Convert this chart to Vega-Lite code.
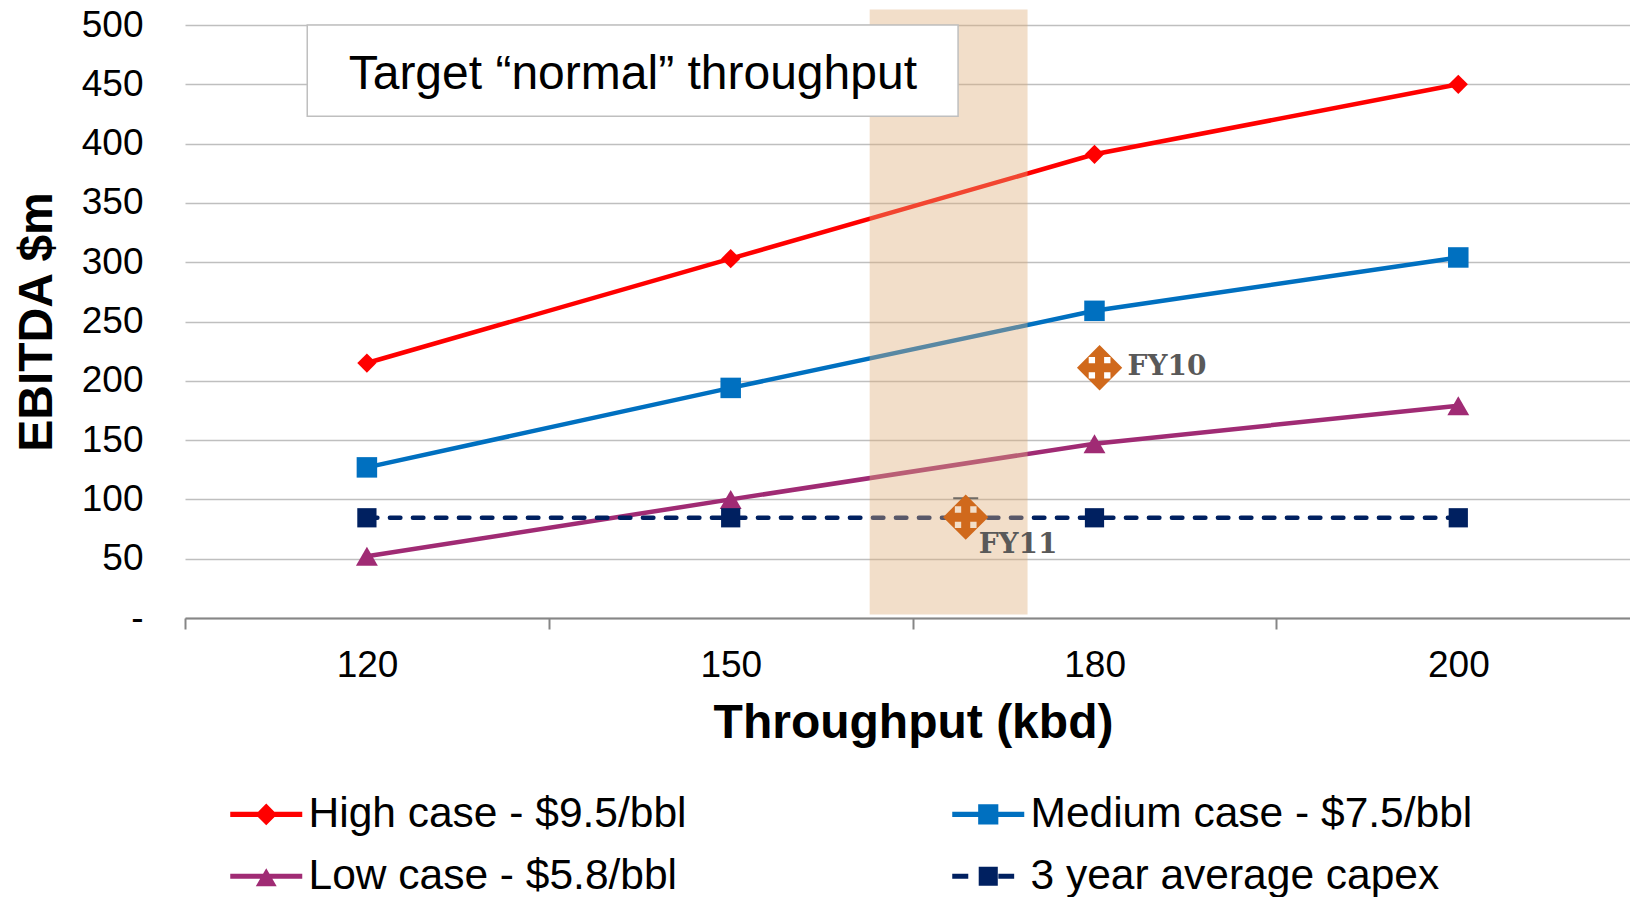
{
  "$schema": "https://vega.github.io/schema/vega-lite/v6.json",
  "width": 1445,
  "height": 593,
  "autosize": {"type": "none"},
  "padding": {"left": 185, "top": 25, "right": 0, "bottom": 279},
  "background": "white",
  "config": {
    "view": {"stroke": null},
    "font": "Liberation Sans",
    "text": {"font": "Liberation Sans"}
  },
  "datasets": {
    "ebitda": [
      {"series": "High case - $9.5/bbl", "throughput": 120, "slot": 0, "ebitda": 215},
      {"series": "High case - $9.5/bbl", "throughput": 150, "slot": 1, "ebitda": 303},
      {"series": "High case - $9.5/bbl", "throughput": 180, "slot": 2, "ebitda": 391},
      {"series": "High case - $9.5/bbl", "throughput": 200, "slot": 3, "ebitda": 450},
      {"series": "Medium case - $7.5/bbl", "throughput": 120, "slot": 0, "ebitda": 127},
      {"series": "Medium case - $7.5/bbl", "throughput": 150, "slot": 1, "ebitda": 194},
      {"series": "Medium case - $7.5/bbl", "throughput": 180, "slot": 2, "ebitda": 259},
      {"series": "Medium case - $7.5/bbl", "throughput": 200, "slot": 3, "ebitda": 304},
      {"series": "Low case - $5.8/bbl", "throughput": 120, "slot": 0, "ebitda": 52},
      {"series": "Low case - $5.8/bbl", "throughput": 150, "slot": 1, "ebitda": 100},
      {"series": "Low case - $5.8/bbl", "throughput": 180, "slot": 2, "ebitda": 147},
      {"series": "Low case - $5.8/bbl", "throughput": 200, "slot": 3, "ebitda": 179},
      {"series": "3 year average capex", "throughput": 120, "slot": 0, "ebitda": 84.5},
      {"series": "3 year average capex", "throughput": 150, "slot": 1, "ebitda": 84.5},
      {"series": "3 year average capex", "throughput": 180, "slot": 2, "ebitda": 84.5},
      {"series": "3 year average capex", "throughput": 200, "slot": 3, "ebitda": 84.5}
    ],
    "actuals": [
      {"label": "FY10", "slot": 2.014, "ebitda": 211},
      {"label": "FY11", "slot": 1.646, "ebitda": 85, "upper": 101}
    ],
    "target": [
      {"from": 1.382, "to": 1.816, "low": 3, "high": 513}
    ],
    "note": [
      {"text": "Target “normal” throughput", "x0": -0.164, "x1": 1.625, "y0": 423, "y1": 500, "xc": 0.731, "yc": 458}
    ]
  },
  "layer": [
    {
      "data": {"name": "ebitda"},
      "transform": [{"filter": "datum.series === 'High case - $9.5/bbl'"}],
      "mark": {"type": "line", "color": "#FF0000", "strokeWidth": 4.5,
               "point": {"shape": "diamond", "size": 370, "filled": true, "color": "#FF0000"}},
      "encoding": {
        "x": {
          "field": "slot", "type": "quantitative", "title": "Throughput (kbd)",
          "scale": {"domain": [-0.5, 3.472], "nice": false, "zero": false},
          "axis": {
            "values": [-0.5, 0.5, 1.5, 2.5],
            "labelExpr": "datum.value < 0 ? '120' : datum.value < 1 ? '150' : datum.value < 2 ? '180' : '200'",
            "labelOffset": 182,
            "labelFlush": false,
            "labelOverlap": false,
            "labelBound": false,
            "grid": false,
            "domainColor": "#868686", "domainWidth": 2,
            "tickColor": "#868686", "tickWidth": 2, "tickSize": 11,
            "labelFont": "Liberation Sans", "labelFontSize": 37, "labelColor": "#000000", "labelPadding": 18,
            "titleFont": "Liberation Sans", "titleFontSize": 48, "titleFontWeight": "bold", "titleColor": "#000000",
            "titlePadding": 16, "titleX": 728
          }
        },
        "y": {
          "field": "ebitda", "type": "quantitative", "title": "EBITDA $m",
          "scale": {"domain": [0, 500], "nice": false},
          "axis": {
            "values": [0, 50, 100, 150, 200, 250, 300, 350, 400, 450, 500],
            "labelExpr": "datum.value == 0 ? '-' : datum.label",
            "grid": true, "gridColor": "#BFBFBF", "gridWidth": 1.5,
            "domain": false, "ticks": false,
            "labelFont": "Liberation Sans", "labelFontSize": 37, "labelColor": "#000000", "labelPadding": 42,
            "titleFont": "Liberation Sans", "titleFontSize": 48, "titleFontWeight": "bold", "titleColor": "#000000",
            "titlePadding": 20
          }
        }
      }
    },
    {
      "data": {"name": "ebitda"},
      "transform": [{"filter": "datum.series === 'Medium case - $7.5/bbl'"}],
      "mark": {"type": "line", "color": "#0070C0", "strokeWidth": 4.5,
               "point": {"shape": "square", "size": 420, "filled": true, "color": "#0070C0"}},
      "encoding": {
        "x": {"field": "slot", "type": "quantitative", "title": "Throughput (kbd)"},
        "y": {"field": "ebitda", "type": "quantitative", "title": "EBITDA $m"}
      }
    },
    {
      "data": {"name": "ebitda"},
      "transform": [{"filter": "datum.series === 'Low case - $5.8/bbl'"}],
      "mark": {"type": "line", "color": "#A02B74", "strokeWidth": 4.5,
               "point": {"shape": "triangle-up", "size": 480, "filled": true, "color": "#A02B74"}},
      "encoding": {
        "x": {"field": "slot", "type": "quantitative", "title": "Throughput (kbd)"},
        "y": {"field": "ebitda", "type": "quantitative", "title": "EBITDA $m"}
      }
    },
    {
      "data": {"name": "ebitda"},
      "transform": [{"filter": "datum.series === '3 year average capex'"}],
      "mark": {"type": "line", "color": "#002060", "strokeWidth": 4.5, "strokeDash": [10.5, 12.5], "strokeCap": "round",
               "point": {"shape": "square", "size": 370, "filled": true, "color": "#002060"}},
      "encoding": {
        "x": {"field": "slot", "type": "quantitative", "title": "Throughput (kbd)"},
        "y": {"field": "ebitda", "type": "quantitative", "title": "EBITDA $m"}
      }
    },
    {
      "data": {"name": "ebitda"},
      "mark": {"type": "point", "filled": true, "opacity": 0},
      "encoding": {
        "x": {"field": "slot", "type": "quantitative", "title": "Throughput (kbd)"},
        "y": {"field": "ebitda", "type": "quantitative", "title": "EBITDA $m"},
        "color": {
          "field": "series", "type": "nominal",
          "scale": {
            "domain": ["High case - $9.5/bbl", "Low case - $5.8/bbl", "Medium case - $7.5/bbl", "3 year average capex"],
            "range": ["#FF0000", "#A02B74", "#0070C0", "#002060"]
          },
          "legend": {
            "orient": "none", "legendX": 42, "legendY": 768,
            "columns": 2, "columnPadding": 262, "rowPadding": 19,
            "title": null,
            "symbolSize": 1296, "symbolStrokeWidth": 0, "symbolOpacity": 1,
            "labelFont": "Liberation Sans", "labelFontSize": 42.5, "labelColor": "#000000",
            "labelOffset": 39, "labelLimit": 0
          }
        },
        "shape": {
          "field": "series", "type": "nominal",
          "scale": {
            "domain": ["High case - $9.5/bbl", "Low case - $5.8/bbl", "Medium case - $7.5/bbl", "3 year average capex"],
            "range": [
              "M-1,-0.14L3,-0.14L3,0.14L-1,0.14Z M1,-0.6L1.6,0L1,0.6L0.4,0Z",
              "M-1,-0.14L3,-0.14L3,0.14L-1,0.14Z M1,-0.45L1.58,0.55L0.42,0.55Z",
              "M-1,-0.14L3,-0.14L3,0.14L-1,0.14Z M0.44,-0.56L1.56,-0.56L1.56,0.56L0.44,0.56Z",
              "M-1,-0.14L-0.11,-0.14L-0.11,0.14L-1,0.14Z M0.47,-0.53L1.53,-0.53L1.53,0.53L0.47,0.53Z M1.56,-0.14L2.44,-0.14L2.44,0.14L1.56,0.14Z"
            ]
          },
          "legend": {
            "orient": "none", "legendX": 42, "legendY": 768,
            "columns": 2, "columnPadding": 262, "rowPadding": 19,
            "title": null,
            "symbolSize": 1296, "symbolStrokeWidth": 0, "symbolOpacity": 1,
            "labelFont": "Liberation Sans", "labelFontSize": 42.5, "labelColor": "#000000",
            "labelOffset": 39, "labelLimit": 0
          }
        }
      }
    },
    {
      "data": {"name": "target"},
      "mark": {"type": "rect", "color": "#DEAC78", "opacity": 0.4},
      "encoding": {
        "x": {"field": "from", "type": "quantitative", "title": "Throughput (kbd)"},
        "x2": {"field": "to"},
        "y": {"field": "low", "type": "quantitative", "title": "EBITDA $m"},
        "y2": {"field": "high"}
      }
    },
    {
      "data": {"name": "note"},
      "mark": {"type": "rect", "fill": "#FFFFFF", "stroke": "#BFBFBF", "strokeWidth": 1.5},
      "encoding": {
        "x": {"field": "x0", "type": "quantitative", "title": "Throughput (kbd)"},
        "x2": {"field": "x1"},
        "y": {"field": "y0", "type": "quantitative", "title": "EBITDA $m"},
        "y2": {"field": "y1"}
      }
    },
    {
      "data": {"name": "note"},
      "mark": {"type": "text", "font": "Liberation Sans", "fontSize": 48, "color": "#000000", "align": "center", "baseline": "middle"},
      "encoding": {
        "x": {"field": "xc", "type": "quantitative", "title": "Throughput (kbd)"},
        "y": {"field": "yc", "type": "quantitative", "title": "EBITDA $m"},
        "text": {"field": "text"}
      }
    },
    {
      "data": {"name": "actuals"},
      "transform": [{"filter": "isValid(datum.upper)"}],
      "mark": {"type": "tick", "orient": "horizontal", "size": 25, "thickness": 2, "color": "#3F3F3F"},
      "encoding": {
        "x": {"field": "slot", "type": "quantitative", "title": "Throughput (kbd)"},
        "y": {"field": "upper", "type": "quantitative", "title": "EBITDA $m"}
      }
    },
    {
      "data": {"name": "actuals"},
      "mark": {
        "type": "point", "filled": true, "color": "#D0691C", "opacity": 1, "size": 2050, "strokeWidth": 0,
        "shape": "M0,-1L1,0L0,1L-1,0Z M0.2,0.2L0.2,0.48L0.48,0.48L0.48,0.2Z M-0.2,0.2L-0.48,0.2L-0.48,0.48L-0.2,0.48Z M0.2,-0.2L0.48,-0.2L0.48,-0.48L0.2,-0.48Z M-0.2,-0.2L-0.2,-0.48L-0.48,-0.48L-0.48,-0.2Z"
      },
      "encoding": {
        "x": {"field": "slot", "type": "quantitative", "title": "Throughput (kbd)"},
        "y": {"field": "ebitda", "type": "quantitative", "title": "EBITDA $m"}
      }
    },
    {
      "data": {"name": "actuals"},
      "transform": [{"filter": "datum.label === 'FY10'"}],
      "mark": {"type": "text", "font": "DejaVu Serif", "fontWeight": "bold", "fontSize": 28, "color": "#595959", "align": "left", "baseline": "alphabetic", "dx": 28, "dy": 7},
      "encoding": {
        "x": {"field": "slot", "type": "quantitative", "title": "Throughput (kbd)"},
        "y": {"field": "ebitda", "type": "quantitative", "title": "EBITDA $m"},
        "text": {"field": "label"}
      }
    },
    {
      "data": {"name": "actuals"},
      "transform": [{"filter": "datum.label === 'FY11'"}],
      "mark": {"type": "text", "font": "DejaVu Serif", "fontWeight": "bold", "fontSize": 28, "color": "#595959", "align": "left", "baseline": "alphabetic", "dx": 13, "dy": 36},
      "encoding": {
        "x": {"field": "slot", "type": "quantitative", "title": "Throughput (kbd)"},
        "y": {"field": "ebitda", "type": "quantitative", "title": "EBITDA $m"},
        "text": {"field": "label"}
      }
    }
  ]
}
